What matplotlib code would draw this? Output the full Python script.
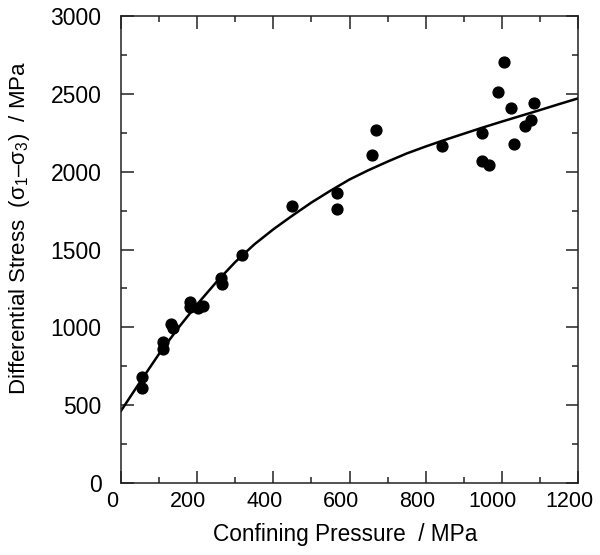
import numpy as np
import matplotlib
matplotlib.use('Agg')
import matplotlib.pyplot as plt
import matplotlib.transforms as mtransforms
from matplotlib.ticker import MultipleLocator

plt.rcParams['font.family'] = ['Liberation Sans', 'DejaVu Sans']
plt.rcParams['mathtext.fontset'] = 'custom'
plt.rcParams['mathtext.rm'] = 'Liberation Sans'

# measured points
pressure = [56, 56, 111, 111, 131, 137, 181, 181, 203, 216, 262, 266, 318,
            449, 568, 568, 658, 670, 844, 947, 947, 965, 990, 1006, 1024,
            1032, 1062, 1076, 1084]
stress = [683, 612, 904, 859, 1019, 993, 1162, 1132, 1126, 1137, 1315, 1276, 1464,
          1779, 1865, 1760, 2107, 2267, 2164, 2250, 2068, 2042, 2511, 2706, 2410,
          2177, 2293, 2331, 2439]

# fitted curve
curve_x = [0, 50, 100, 150, 200, 250, 300, 350, 400, 450, 500, 550, 600,
           650, 700, 750, 800, 850, 900, 950, 1000, 1050, 1100, 1150, 1200]
curve_y = [464, 649, 830, 995, 1148, 1290, 1420, 1533, 1630, 1718, 1802, 1878, 1950,
           2010, 2065, 2117, 2162, 2204, 2244, 2284, 2322, 2359, 2396, 2434, 2471]

fig = plt.figure(figsize=(6, 5.55), dpi=100)
ax = fig.add_axes([0.2017, 0.1297, 0.7617, 0.8414])

ax.plot(curve_x, curve_y, color='black', lw=1.8)
ax.plot(pressure, stress, 'o', color='black', ms=7.8, mec='black')

ax.set_xlim(0, 1200)
ax.set_ylim(0, 3000)
ax.xaxis.set_major_locator(MultipleLocator(200))
ax.xaxis.set_minor_locator(MultipleLocator(100))
ax.yaxis.set_major_locator(MultipleLocator(500))
ax.yaxis.set_minor_locator(MultipleLocator(250))
ax.tick_params(which='both', direction='in', top=True, right=True, width=1.1, colors='#222222', labelcolor='black')
ax.tick_params(which='major', length=9)
ax.tick_params(which='minor', length=4.5)
ax.tick_params(axis='x', which='major', pad=6, labelsize=15.5)
ax.tick_params(axis='y', which='major', pad=14, labelsize=16.5)
for s in ax.spines.values():
    s.set_linewidth(1.1)
    s.set_color('#222222')

# x tick labels sit a little left of their ticks in the original
shift = mtransforms.ScaledTranslation(-9 / 100, 0, fig.dpi_scale_trans)
for lab in ax.get_xticklabels():
    lab.set_transform(lab.get_transform() + shift)

ax.set_xlabel('Confining Pressure  / MPa', fontsize=16.3)
ax.xaxis.set_label_coords(0.49, -0.085)
ax.xaxis.label.set_va('top')
ax.set_ylabel(r'Differential Stress  ($\mathregular{\sigma_1}$–$\mathregular{\sigma_3}$)  / MPa', fontsize=16)
ax.yaxis.set_label_coords(-0.195, 0.546)

fig.savefig('out.png', dpi=100)
